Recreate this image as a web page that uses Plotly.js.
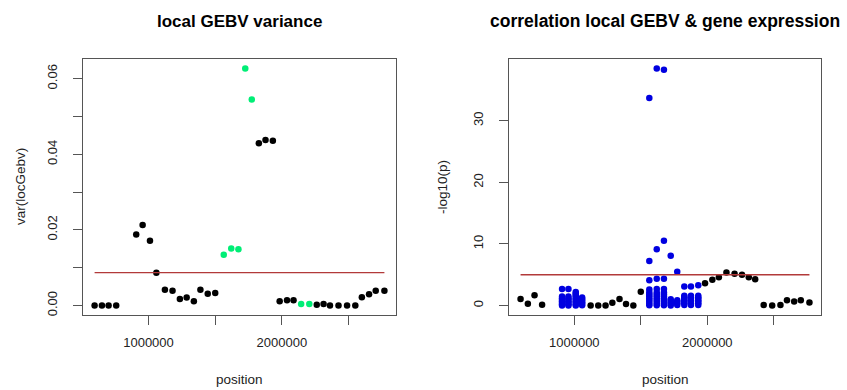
<!DOCTYPE html>
<html>
<head>
<meta charset="utf-8">
<script src="https://cdn.plot.ly/plotly-3.0.1.min.js"></script>
<style>html,body{margin:0;padding:0;background:#fff;}#chart{width:847px;height:390px;}</style>
</head>
<body>
<div id="chart"></div>
<script>
// window positions (shared by both panels)
const positions = [596000, 651000, 701000, 758000, 908000, 956000, 1011000, 1059000,
  1123000, 1180000, 1235000, 1286000, 1340000, 1389000, 1444000, 1500000,
  1564000, 1620000, 1674000, 1725000, 1774000, 1827000, 1877000, 1932000,
  1983000, 2038000, 2087000, 2144000, 2205000, 2261000, 2312000, 2360000,
  2424000, 2488000, 2550000, 2599000, 2653000, 2703000, 2768000];

// left panel: local GEBV variance
const localVar = [0, 0, 0, 0, 0.0188, 0.0213, 0.0171, 0.0087,
  0.0042, 0.0039, 0.0017, 0.0021, 0.0011, 0.0042, 0.0031, 0.0033,
  0.0134, 0.0151, 0.0149, 0.0627, 0.0545, 0.0429, 0.0438, 0.0436,
  0.0011, 0.0014, 0.0014, 0.0004, 0.0004, 0.0002, 0.0004, 0, 0, 0, 0,
  0.0022, 0.0030, 0.0039, 0.0039];
const significantWindow = [false, false, false, false, false, false, false, false,
  false, false, false, false, false, false, false, false,
  true, true, true, true, true, false, false, false,
  false, false, false, true, true, false, false, false, false, false, false,
  false, false, false, false];
const varThreshold = 0.0087;

// right panel: windows without expressed genes (black)
const noGeneIdx = [0, 1, 2, 3, 8, 9, 10, 11, 12, 13, 14, 15, 24, 25, 26, 27, 28, 29, 30, 31, 32, 33, 34, 35, 36, 37, 38];
const noGeneLogP = [1.04, 0.30, 1.68, 0.13, 0, 0, 0, 0.44, 1.04, 0.23, 0, 2.22,
  3.6, 4.17, 4.6, 5.36, 5.14, 4.98, 4.6, 4.28, 0.1, 0, 0.1, 0.87, 0.65, 0.87, 0.49];
// windows with genes (blue): -log10(p) of each gene
const geneIdx = [4, 5, 6, 7, 16, 17, 18, 19, 20, 21, 22, 23];
const geneLogP = [
  [2.7, 1.45, 1.2, 0.95, 0.7, 0.45, 0.2, 0.02],
  [2.7, 1.45, 1.2, 0.95, 0.7, 0.45, 0.2, 0.02],
  [2.2, 1.95, 1.7, 1.45, 1.2, 0.95, 0.7, 0.45, 0.2, 0.02],
  [1.3, 1.05, 0.8, 0.55, 0.3, 0.05],
  [33.7, 7.25, 4.1, 2.6, 2.1, 1.8, 1.5, 1.2, 0.9, 0.6, 0.3, 0.05],
  [38.5, 9.15, 4.33, 2.7, 2.1, 1.8, 1.5, 1.2, 0.9, 0.6, 0.3, 0.05],
  [38.3, 10.5, 4.33, 2.7, 2.1, 1.8, 1.5, 1.2, 0.9, 0.6, 0.3, 0.05],
  [8.1, 1.0, 0.75, 0.5, 0.25, 0.02],
  [5.5, 0.87, 0.6, 0.35, 0.1],
  [3.1, 1.6, 1.35, 1.1, 0.85, 0.6, 0.35, 0.1],
  [3.1, 1.6, 1.35, 1.1, 0.85, 0.6, 0.35, 0.1],
  [3.3, 1.6, 1.35, 1.1, 0.85, 0.6, 0.35, 0.1]
];
const pThreshold = 5;

const xTickVals = [1000000, 1500000, 2000000, 2500000];
const xTickText = ['1000000', '', '2000000', ''];
const varTickVals = [0, 0.01, 0.02, 0.03, 0.04, 0.05, 0.06];
const varTickText = ['0.00', '', '0.02', '', '0.04', '', '0.06'];
const pTickVals = [0, 10, 20, 30];
const pTickText = ['0', '10', '20', '30'];

const W = 847, H = 390;
const FONT = 'Liberation Sans, Arial, Helvetica, sans-serif';
const GREEN = '#00EE76', BLUE = '#0000E0', LINE = '#B23A3A';

function rRange(vals) {
  const mn = Math.min(...vals), mx = Math.max(...vals), d = (mx - mn) * 0.04;
  return [mn - d, mx + d];
}

const traces = [];
// left
traces.push({x: positions.filter((p, i) => !significantWindow[i]), y: localVar.filter((v, i) => !significantWindow[i]),
  xaxis: 'x', yaxis: 'y', mode: 'markers', type: 'scatter', marker: {color: '#000', size: 6.5}, hoverinfo: 'skip'});
traces.push({x: positions.filter((p, i) => significantWindow[i]), y: localVar.filter((v, i) => significantWindow[i]),
  xaxis: 'x', yaxis: 'y', mode: 'markers', type: 'scatter', marker: {color: GREEN, size: 6.5}, hoverinfo: 'skip'});
traces.push({x: [positions[0], positions[positions.length - 1]], y: [varThreshold, varThreshold],
  xaxis: 'x', yaxis: 'y', mode: 'lines', type: 'scatter', line: {color: LINE, width: 1.3}, hoverinfo: 'skip'});
// right
const gx = [], gy = [];
geneIdx.forEach((wi, k) => geneLogP[k].forEach(v => { gx.push(positions[wi]); gy.push(v); }));
traces.push({x: noGeneIdx.map(i => positions[i]), y: noGeneLogP,
  xaxis: 'x2', yaxis: 'y2', mode: 'markers', type: 'scatter', marker: {color: '#000', size: 6.5}, hoverinfo: 'skip'});
traces.push({x: gx, y: gy,
  xaxis: 'x2', yaxis: 'y2', mode: 'markers', type: 'scatter', marker: {color: BLUE, size: 6.5}, hoverinfo: 'skip'});
traces.push({x: [positions[0], positions[positions.length - 1]], y: [pThreshold, pThreshold],
  xaxis: 'x2', yaxis: 'y2', mode: 'lines', type: 'scatter', line: {color: LINE, width: 1.3}, hoverinfo: 'skip'});

const allP = noGeneLogP.concat(gy);
const boxTop = 59, boxBot = 315;
const yDom = [(H - boxBot) / H, (H - boxTop) / H];
const axCommon = {showgrid: false, zeroline: false, showline: true, mirror: true, linecolor: '#555', linewidth: 1,
  ticks: 'outside', ticklen: 9, tickcolor: '#555', tickfont: {family: FONT, size: 13, color: '#222'}};
const xAx = {tickmode: 'array', tickvals: xTickVals, ticktext: xTickText, ticklabelstandoff: 6};

const layout = {
  width: W, height: H, margin: {l: 0, r: 0, t: 0, b: 0}, showlegend: false,
  paper_bgcolor: '#fff', plot_bgcolor: '#fff', font: {family: FONT},
  xaxis: Object.assign({}, axCommon, xAx, {domain: [83 / W, 396 / W], anchor: 'y', range: rRange(positions)}),
  yaxis: Object.assign({}, axCommon, {domain: yDom, anchor: 'x', range: rRange(localVar),
    tickmode: 'array', tickvals: varTickVals, ticktext: varTickText, tickangle: -90, ticklabelstandoff: 11}),
  xaxis2: Object.assign({}, axCommon, xAx, {domain: [509 / W, 821 / W], anchor: 'y2', range: rRange(positions)}),
  yaxis2: Object.assign({}, axCommon, {domain: yDom, anchor: 'x2', range: rRange(allP),
    tickmode: 'array', tickvals: pTickVals, ticktext: pTickText, tickangle: -90, ticklabelstandoff: 11}),
  annotations: [
    {text: '<b>local GEBV variance</b>', xref: 'paper', yref: 'paper', x: 239.5 / W, y: (H - 21) / H,
      showarrow: false, xanchor: 'center', yanchor: 'middle', font: {family: FONT, size: 17, color: '#000'}},
    {text: '<b>correlation local GEBV &amp; gene expression</b>', xref: 'paper', yref: 'paper', x: 665 / W, y: (H - 21) / H,
      showarrow: false, xanchor: 'center', yanchor: 'middle', font: {family: FONT, size: 17.5, color: '#000'}},
    {text: 'position', xref: 'paper', yref: 'paper', x: 239.5 / W, y: (H - 379) / H,
      showarrow: false, xanchor: 'center', yanchor: 'middle', font: {family: FONT, size: 13.5, color: '#222'}},
    {text: 'position', xref: 'paper', yref: 'paper', x: 665 / W, y: (H - 379) / H,
      showarrow: false, xanchor: 'center', yanchor: 'middle', font: {family: FONT, size: 13.5, color: '#222'}},
    {text: 'var(locGebv)', xref: 'paper', yref: 'paper', x: 21 / W, y: (H - 187) / H, textangle: -90,
      showarrow: false, xanchor: 'center', yanchor: 'middle', font: {family: FONT, size: 13.5, color: '#222'}},
    {text: '-log10(p)', xref: 'paper', yref: 'paper', x: 443 / W, y: (H - 187) / H, textangle: -90,
      showarrow: false, xanchor: 'center', yanchor: 'middle', font: {family: FONT, size: 13.5, color: '#222'}}
  ]
};

Plotly.newPlot('chart', traces, layout, {staticPlot: true, displayModeBar: false});
</script>
</body>
</html>
